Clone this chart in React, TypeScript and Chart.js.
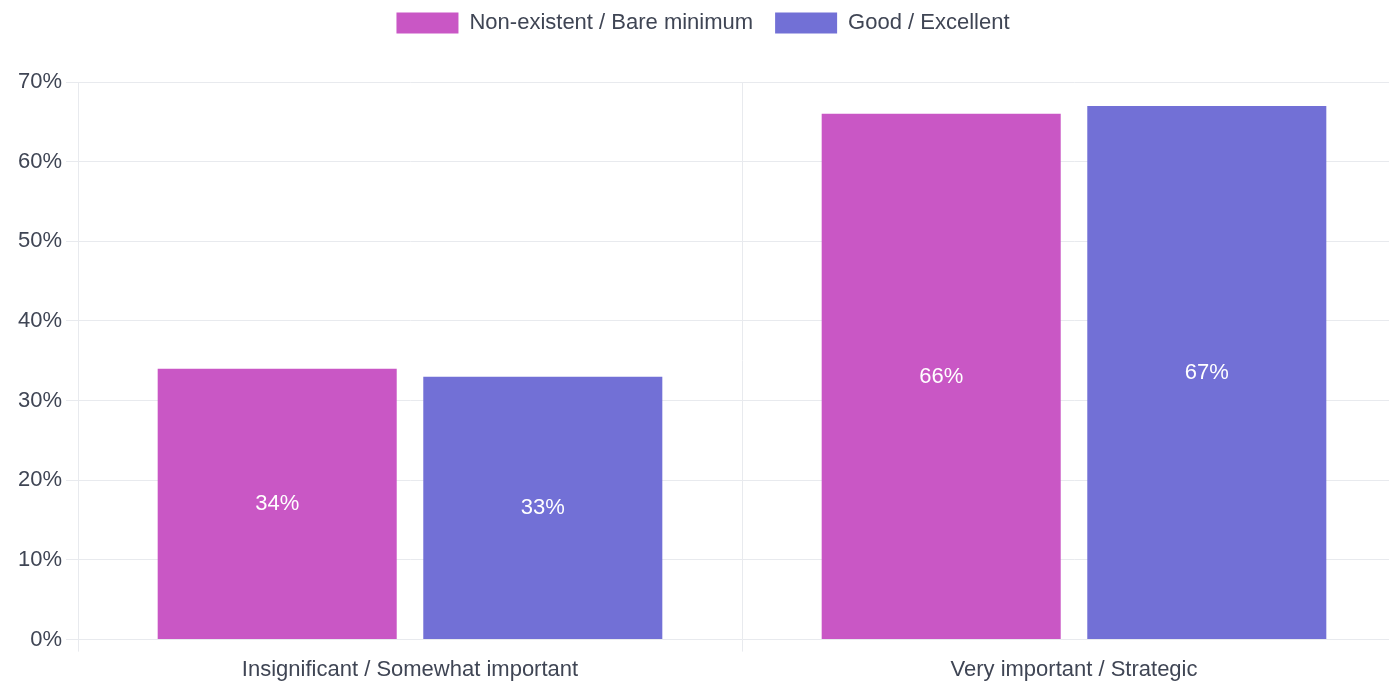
import React, { useEffect, useRef } from "react";
import { Chart, registerables } from "chart.js";

Chart.register(...registerables);

const categories = ["Insignificant / Somewhat important", "Very important / Strategic"];
const seriesNames = ["Non-existent / Bare minimum", "Good / Excellent"];
const nonExistent = [34, 66];
const goodExcellent = [33, 67];
const seriesColors = ["#C957C5", "#7270D6"];

const FONT = "'Liberation Sans', Arial, Helvetica, sans-serif";
const TEXT = "#3f4554";
const GRID = "#e8eaee";

const labelPlugin = {
  id: "barLabels",
  afterDatasetsDraw(chart: any) {
    const ctx = chart.ctx;
    ctx.save();
    ctx.fillStyle = "#ffffff";
    ctx.font = `22px ${FONT}`;
    ctx.textAlign = "center";
    ctx.textBaseline = "middle";
    chart.data.datasets.forEach((ds: any, i: number) => {
      const meta = chart.getDatasetMeta(i);
      meta.data.forEach((bar: any, j: number) => {
        const y = (bar.y + bar.base) / 2;
        ctx.fillText(`${ds.data[j]}%`, bar.x, y);
      });
    });
    ctx.restore();
  },
};

const legendSpacer = {
  id: "legendSpacer",
  afterInit(chart: any) {
    const legend = chart.legend;
    if (!legend) return;
    const orig = legend.fit;
    legend.fit = function () {
      orig.call(this);
      this.height += 38;
    };
  },
};

export default function App() {
  const ref = useRef<HTMLCanvasElement>(null);
  useEffect(() => {
    if (!ref.current) return;
    const chart = new Chart(ref.current, {
      type: "bar",
      data: {
        labels: categories,
        datasets: [
          { label: seriesNames[0], data: nonExistent, backgroundColor: seriesColors[0] },
          { label: seriesNames[1], data: goodExcellent, backgroundColor: seriesColors[1] },
        ],
      },
      options: {
        animation: false,
        responsive: true,
        maintainAspectRatio: false,
        layout: { padding: { left: 0, right: 4, top: 0, bottom: 2 } },
        plugins: {
          legend: {
            position: "top",
            labels: {
              boxWidth: 62,
              boxHeight: 21,
              padding: 22,
              color: TEXT,
              font: { family: FONT, size: 22 },
            },
          },
          tooltip: { enabled: false },
        },
        scales: {
          x: {
            grid: { color: GRID, tickLength: 12, offset: true },
            border: { color: GRID },
            ticks: { color: TEXT, font: { family: FONT, size: 22 }, padding: 5 },
          },
          y: {
            min: 0,
            max: 70,
            afterFit: (scale: any) => {
              scale.width = 78;
            },
            grid: { color: GRID, tickLength: 12 },
            border: { color: GRID },
            ticks: {
              stepSize: 10,
              color: TEXT,
              padding: 4,
              font: { family: FONT, size: 22 },
              callback: (v: any) => `${v}%`,
            },
          },
        },
      },
      plugins: [labelPlugin, legendSpacer],
    });
    return () => chart.destroy();
  }, []);
  return (
    <div style={{ position: "fixed", left: 0, top: 0, width: 1389, height: 683, overflow: "hidden", background: "#fff" }}>
      <div style={{ position: "absolute", left: 0, top: -10, width: 1410, height: 700 }}>
        <canvas ref={ref} />
      </div>
    </div>
  );
}
